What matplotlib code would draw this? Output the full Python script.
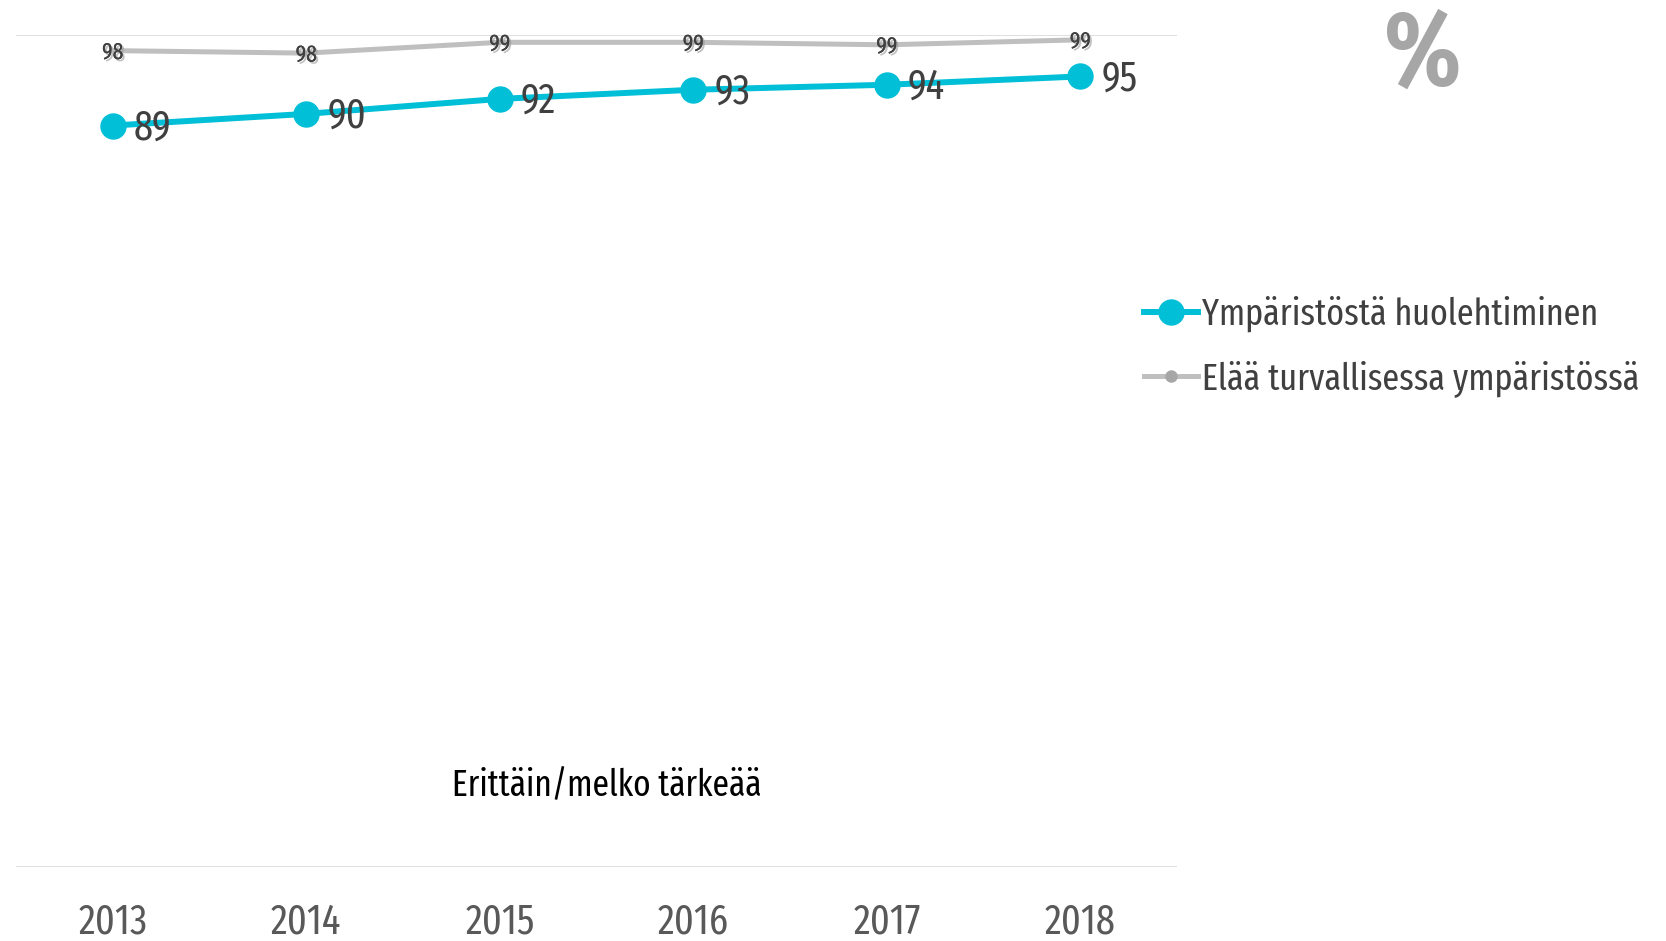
import matplotlib
matplotlib.use("Agg")
import matplotlib.pyplot as plt
from matplotlib.lines import Line2D
import matplotlib.patheffects as pe

# Data
vuodet = ['2013', '2014', '2015', '2016', '2017', '2018']
ymparisto = [89.1, 90.5, 92.3, 93.4, 94.0, 95.0]
turvallinen = [98.1, 97.8, 99.1, 99.1, 98.8, 99.4]
nimi_ymparisto = 'Ympäristöstä huolehtiminen'
nimi_turvallinen = 'Elää turvallisessa ympäristössä'
akselin_otsikko = 'Erittäin/melko tärkeää'

SININEN = '#00bfd6'
HARMAA = '#bfbfbf'
FONTTI = 'Fira Sans Extra Condensed'

plt.rcParams['font.family'] = [FONTTI, 'DejaVu Sans']

fig = plt.figure(figsize=(16.66, 9.41), dpi=100)
ax = fig.add_axes([0.0096, 0.0786, 0.697, 0.8844])

x = list(range(len(vuodet)))

# Harmaa viiva (taustalla)
ax.plot(x, turvallinen, color=HARMAA, lw=3.6, solid_capstyle='butt', zorder=2)
for xi, v in zip(x, turvallinen):
    ax.text(xi, v - 0.2, f'{v:.0f}', ha='center', va='center', fontsize=17,
            color='#404040', zorder=5,
            path_effects=[pe.withSimplePatchShadow(offset=(1.5, -1.5), shadow_rgbFace='#999999', alpha=0.6),
                          pe.Normal()])

# Sininen viiva
ax.plot(x, ymparisto, color=SININEN, lw=4.3, marker='o', markersize=19,
        markeredgewidth=0, zorder=3)
for xi, v in zip(x, ymparisto):
    ax.annotate(f'{v:.0f}', (xi, v), xytext=(15, -2), textcoords='offset points',
                ha='left', va='center', fontsize=30, color='#404040', zorder=6)

ax.set_xlim(-0.5, len(vuodet) - 0.5)
ax.set_ylim(0, 100)
ax.set_yticks([0, 100])
ax.yaxis.grid(True, color='#d9d9d9', lw=1.2)
ax.tick_params(axis='y', left=False, labelleft=False)
ax.set_xticks(x)
ax.set_xticklabels(vuodet, fontsize=30, color='#595959')
ax.tick_params(axis='x', length=0, pad=25)
for s in ax.spines.values():
    s.set_visible(False)
ax.set_axisbelow(True)

ax.text(0.509, 0.098, akselin_otsikko, transform=ax.transAxes, ha='center', va='center',
        fontsize=26, color='#000000')

# Prosenttimerkki
fig.text(0.854, 0.910, '%', ha='center', va='baseline', fontsize=76,
         fontweight='bold', color='#a6a6a6')

# Selite
kahvat = [
    Line2D([0], [0], color=SININEN, lw=4.3, marker='o', markersize=19, markeredgewidth=0),
    Line2D([0], [0], color=HARMAA, lw=3.6, marker='o', markersize=9, markeredgewidth=0,
           markerfacecolor='#a6a6a6'),
]
fig.legend(kahvat, [nimi_ymparisto, nimi_turvallinen], loc='upper left',
           bbox_to_anchor=(0.667, 0.721), frameon=False, fontsize=26.6,
           labelcolor='#404040', handlelength=1.45, handletextpad=0.1,
           labelspacing=0.76)

fig.savefig('out.png', dpi=100)
